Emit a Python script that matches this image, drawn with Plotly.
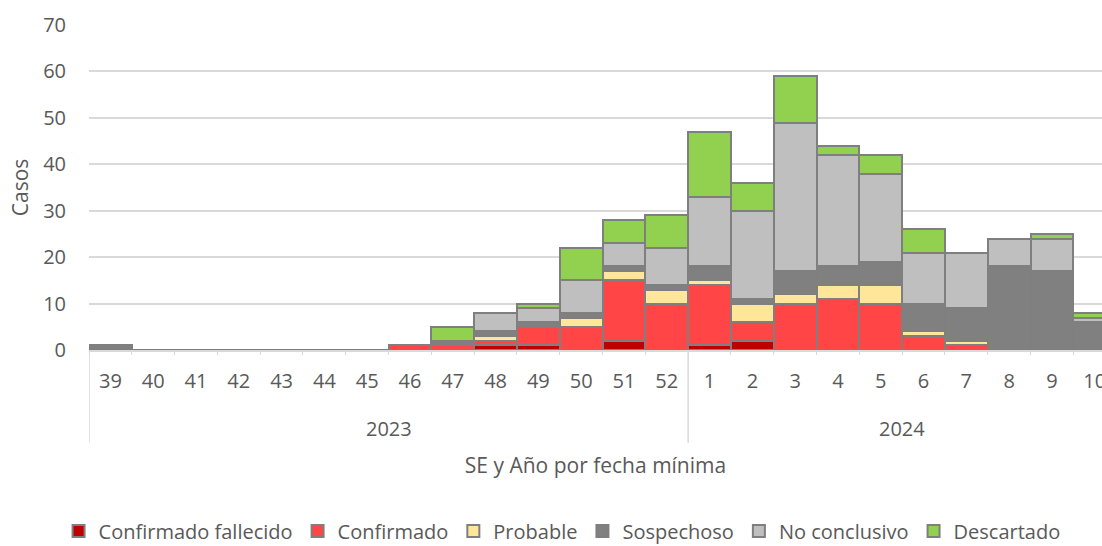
import plotly.graph_objects as go

years = ["2023"] * 14 + ["2024"] * 10
weeks = [str(w) for w in range(39, 53)] + [str(w) for w in range(1, 11)]

confirmado_fallecido = [0, 0, 0, 0, 0, 0, 0, 0, 0, 1, 1, 0, 2, 0, 1, 2, 0, 0, 0, 0, 0, 0, 0, 0]
confirmado           = [0, 0, 0, 0, 0, 0, 0, 1, 1, 1, 4, 5, 13, 10, 13, 4, 10, 11, 10, 3, 1, 0, 0, 0]
probable             = [0, 0, 0, 0, 0, 0, 0, 0, 0, 1, 0, 2, 2, 3, 1, 4, 2, 3, 4, 1, 1, 0, 0, 0]
sospechoso           = [1, 0, 0, 0, 0, 0, 0, 0, 1, 1, 1, 1, 1, 1, 3, 1, 5, 4, 5, 6, 7, 18, 17, 6]
no_conclusivo        = [0, 0, 0, 0, 0, 0, 0, 0, 0, 4, 3, 7, 5, 8, 15, 19, 32, 24, 19, 11, 12, 6, 7, 1]
descartado           = [0, 0, 0, 0, 0, 0, 0, 0, 3, 0, 1, 7, 5, 7, 14, 6, 10, 2, 4, 5, 0, 0, 1, 1]

series = [
    ("Confirmado fallecido", confirmado_fallecido, "#C00000"),
    ("Confirmado", confirmado, "#FF4545"),
    ("Probable", probable, "#FFE699"),
    ("Sospechoso", sospechoso, "#808080"),
    ("No conclusivo", no_conclusivo, "#BFBFBF"),
    ("Descartado", descartado, "#92D050"),
]

FONT = "Open Sans, sans-serif"
TXT = "#595959"
AX = "#D9D9D9"

fig = go.Figure()
for name, vals, color in series:
    fig.add_trace(go.Bar(
        x=weeks, y=vals, name=name,
        marker=dict(color=color, line=dict(color="#7F7F7F", width=2)),
    ))

# year group labels and dividers, derived from the category positions
groups = []
for i, yr in enumerate(years):
    if not groups or groups[-1][0] != yr:
        groups.append([yr, i, i])
    else:
        groups[-1][2] = i

annotations = []
shapes = []
for yr, i0, i1 in groups:
    annotations.append(dict(x=(i0 + i1) / 2, xref="x", y=-0.24, yref="paper", text=yr,
                            showarrow=False, font=dict(size=20, color=TXT), yanchor="middle"))
    shapes.append(dict(type="line", xref="x", yref="paper", x0=i0 - 0.5, x1=i0 - 0.5,
                       y0=0, y1=-0.285, line=dict(color=AX, width=1.5)))

fig.update_layout(
    barmode="stack", bargap=0,
    width=1102, height=546,
    margin=dict(l=89, r=0, t=25, b=196, autoexpand=False),
    paper_bgcolor="white", plot_bgcolor="white",
    font=dict(family=FONT, size=20, color=TXT),
    legend=dict(orientation="h", x=0.467, xanchor="center",
                y=-0.557, yanchor="middle", traceorder="normal",
                font=dict(size=20, color=TXT)),
    annotations=annotations,
    shapes=shapes,
)
fig.update_yaxes(range=[0, 70], dtick=10, showgrid=True, gridcolor=AX, gridwidth=1.5,
                 zeroline=False, showline=False, ticks="", ticklabelstandoff=22, automargin=False,
                 tickfont=dict(size=20, color=TXT),
                 title=dict(text="Casos", font=dict(size=21, color=TXT), standoff=8))
fig.update_xaxes(type="category", range=[-0.5, 23.17], showline=True, linecolor=AX,
                 linewidth=1.5, ticks="outside", ticklen=3, tickcolor=AX, tickson="boundaries",
                 tickangle=0, automargin=False, ticklabelstandoff=12,
                 tickfont=dict(size=20, color=TXT),
                 title=dict(text="SE y Año por fecha mínima", font=dict(size=21, color=TXT),
                            standoff=66))

fig.write_html("out.html",
               config={"displayModeBar": False},
               post_script="document.body.style.margin='0';"
                           "document.documentElement.style.overflow='hidden';")
